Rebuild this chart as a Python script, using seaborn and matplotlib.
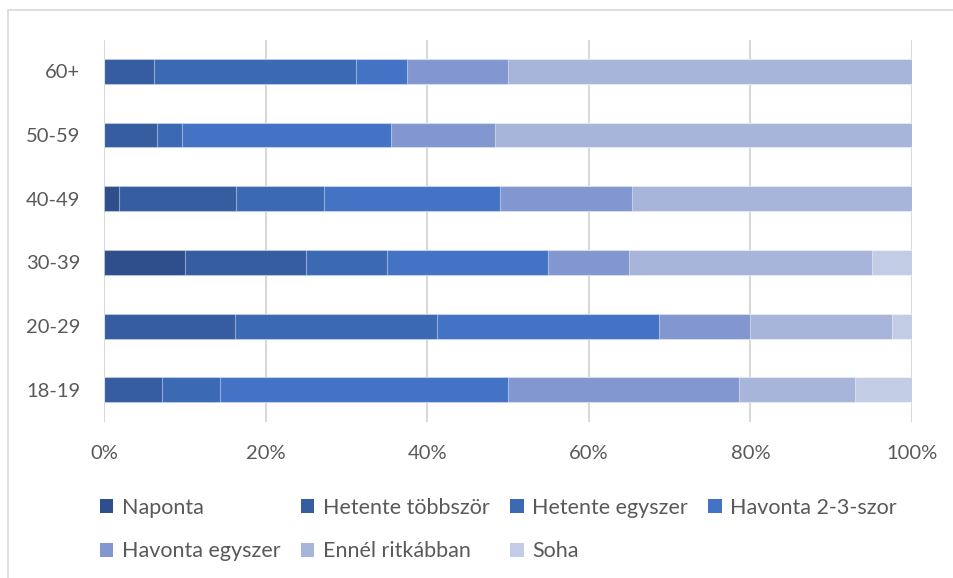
import matplotlib
matplotlib.use("Agg")
import matplotlib.pyplot as plt
from matplotlib.patches import Rectangle, Patch
from matplotlib.ticker import FuncFormatter
import seaborn as sns
import pandas as pd
import numpy as np

categories = ["60+", "50-59", "40-49", "30-39", "20-29", "18-19"]
series_names = ["Naponta", "Hetente többször", "Hetente egyszer", "Havonta 2-3-szor",
                "Havonta egyszer", "Ennél ritkábban", "Soha"]
naponta          = [0.0, 0.0, 1.8, 10.0, 0.0, 0.0]
hetente_tobbszor = [6.25, 6.5, 14.5, 15.0, 16.25, 7.15]
hetente_egyszer  = [25.0, 3.2, 10.9, 10.0, 25.0, 7.15]
havonta_23       = [6.25, 25.8, 21.8, 20.0, 27.5, 35.7]
havonta_egyszer  = [12.5, 12.9, 16.4, 10.0, 11.25, 28.6]
ennel_ritkabban  = [50.0, 51.6, 34.6, 30.0, 17.5, 14.3]
soha             = [0.0, 0.0, 0.0, 5.0, 2.5, 7.1]
colors = ["#2e4f8b", "#355da0", "#3c69b4", "#4472c4", "#8297cf", "#a7b5da", "#c3cce5"]

series = [naponta, hetente_tobbszor, hetente_egyszer, havonta_23,
          havonta_egyszer, ennel_ritkabban, soha]

sns.set_theme(style="white")
plt.rcParams["font.family"] = ["Lato", "DejaVu Sans"]

fig = plt.figure(figsize=(9.54, 5.78), dpi=100)
W, H = 954, 578
ax = fig.add_axes([104 / W, 1 - 421.7 / H, (912 - 104) / W, (421.7 - 39.5) / H])

vals = np.array(series, dtype=float)
cum = np.cumsum(vals, axis=0)
# draw from the last cumulative (widest) to first so earlier ones overlay
for i in range(len(series) - 1, -1, -1):
    df = pd.DataFrame({"cat": categories, "val": cum[i]})
    sns.barplot(data=df, x="val", y="cat", order=categories, orient="h",
                color=colors[i], saturation=1, width=0.39,
                edgecolor=(1, 1, 1, 0.45), linewidth=0.8, ax=ax, zorder=3)

ax.set_xlim(0, 100)
ax.set_ylim(5.5, -0.5)
ax.set_xticks([0, 20, 40, 60, 80, 100])
ax.xaxis.set_major_formatter(FuncFormatter(lambda v, p: f"{int(v)}%"))
ax.grid(axis="x", color="#d9d9d9", linewidth=1.5, zorder=0)
ax.grid(axis="y", visible=False)
for s in ax.spines.values():
    s.set_visible(False)
ax.set_xlabel("")
ax.set_ylabel("")
ax.tick_params(axis="x", length=0, pad=17, labelsize=14.5, labelcolor="#595959")
ax.tick_params(axis="y", length=0, pad=17, labelsize=14.5, labelcolor="#595959")
ax.set_axisbelow(True)

handles = [Patch(facecolor=c, edgecolor="none") for c in colors]
order = [0, 4, 1, 5, 2, 6, 3]
leg = fig.legend([handles[i] for i in order], [series_names[i] for i in order],
                 ncol=4, loc="upper left", bbox_to_anchor=(100 / W, 1 - 497.5 / H),
                 frameon=False, fontsize=15.5, handlelength=0.62, handleheight=0.62,
                 handletextpad=0.4, columnspacing=0.95, labelspacing=1.1, borderpad=0,
                 borderaxespad=0)
for t in leg.get_texts():
    t.set_color("#595959")

fig.patches.append(Rectangle((8, -50), 1000, H - 10 + 50, transform=None, fill=False,
                             edgecolor="#d9d9d9", linewidth=1.2))

fig.savefig("out.png", dpi=100)
